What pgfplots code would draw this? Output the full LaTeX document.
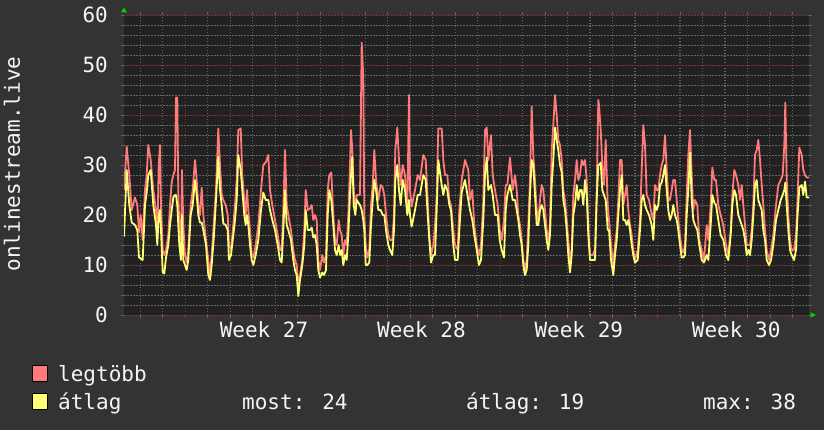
\documentclass[border=0pt]{standalone}
\usepackage{pgfplots}
\pgfplotsset{compat=1.18}
\usepackage{pgfplotstable}
\usepackage{fontspec}
\setmainfont{DejaVu Sans Mono}
\definecolor{outerbg}{RGB}{51,51,51}
\definecolor{plotbg}{RGB}{33,33,33}
\definecolor{mingrid}{RGB}{100,100,100}
\definecolor{majgrid}{RGB}{125,52,52}
\definecolor{fg}{RGB}{245,245,245}
\definecolor{redc}{RGB}{255,122,122}
\definecolor{yelc}{RGB}{255,255,115}
\definecolor{arrowg}{RGB}{0,210,0}
\newcommand\fs{\fontsize{21bp}{25bp}\selectfont}

% x = time position (one unit = 1/22.486 day; week boundaries at 185.3, 342.7, 500.1, 657.5)
% r = legtobb (max), a = atlag (average)
\pgfplotstableread{
x r a
124 25 15.7
126.7 33.7 29
129.3 28 22
131.7 21 18.5
135 23.5 18
137.3 22 17
139 16.5 11.5
140.7 20 11.3
142.7 15 11
145 25 22
146.7 28 24.5
148.3 34 28
150.7 31 29
153.3 25 22
156 21 18
157.3 15 14
158.7 30 20
160 34 21
161 22 17
162.7 13 8.5
164.3 12 8.3
166 13 11.5
168.3 16 14
170 22 18
171.7 26.5 21
173.3 28 23.5
175 29 24
176 43.5 24
177.3 43.5 22
178.3 24 18
179.3 18 14
181 15 11
182 29 20
183.3 18 11
185 12 10
186.7 10.5 9
188.3 13 11
190.7 22 20
192.7 25 22
195 31 27
196.7 27 24
198.3 22 20
200 20 18.5
201.7 25.5 18.5
203.3 20 17
206 15 14
208.3 11 8
210 8 7
211.7 12 10
214 19 16
216 25 23
218.3 37.3 31.7
220 30 25
221.7 24 22
223.3 23 18.3
225.7 22 18
227.7 20 17
229 14 11
231 13 12
233.3 18 16
235 22 19
236.7 27 23
238.3 37 32
240.7 37.3 29
242.3 28 25
244.3 23 20
245.7 20 18
247 25 20
248.3 21 18
250 17 14
251.7 12 11
253.3 11.5 10
255.7 14 12
258.3 18 15
261 25 21
263.3 30 24.5
265.7 30.5 23
268.3 32 23
270 25 21
272.3 22 19
275 19 17
277.7 16 14
280 13 11
281.7 13 10.5
283.3 21 17
285 33 25
286.7 22 18
288.3 20 17
291 17 15
293.3 13 11
295 11 9
296.7 10 8
298.3 6 3.8
300 8 7
302.3 11 10
304.3 17 14
305.7 25 21
307.7 21 17
310 21.3 17
311.7 22 17.5
313.3 19 15.5
315 20 16
316.7 19 14
318.3 11 9
320 9 7.5
322.3 12 8.5
324 10.5 8
326 12 9
327.7 25 20
329.3 28 25
331.3 28.5 23
333.3 20 18
335 15 13
336.7 14 12
338.7 19 14
340 17 12
341.7 16 13
343.3 12 10
345 15 12
346.7 14 11
348.3 20 16
350 30 24
351 37 28
352.3 33 31.7
353.7 25 22
355.3 21 20
356.7 24 23
358.3 24 22.5
360 24 22
361.7 54.5 21
363.3 47.5 19
364.3 20 17
365.7 14 10
367.3 11.5 10
369.3 13 10.5
371 22 18
372.7 26 23
374.3 33 27
376 27 25
378.3 23 21
380.7 26 21
382.7 25.5 20
384.3 24 20
386 20 17
388.3 16 14
390 15 13
392.3 15 12
394 20 17
395.3 33 27
397.3 37.5 30
399 31 25
400.7 26 22
402.7 30 27
405 28 25
407.3 21 20
409 44 23
410 25 20
411.7 21.7 17.7
415 25 21
417.7 28 24
420 27 24
423.3 32 28
425.7 31 27
427.7 23 20
429.3 16 15
431 12 10.5
433.3 14 12
435 18 12
436.7 24 21
438.3 37.3 31
441.7 37.3 26
443.3 31 24
445 28 26
447.3 28 25
449.3 23 22
451 22 21
453.3 17 14
455 14 11
457.7 13 11
459.3 21 17
461.7 27 24.5
465 31 27
468.3 29 23
470 23 21
472.3 25 19
474.3 18 16
476.7 14 13
479 12 10
481 14 11
483.3 23 19
485 37 28
486.7 37.5 31.5
488.3 31 25
491 36 26
492.7 28 24
495 25 20
497.7 22 20
499.7 17 15
501.7 15 13
504 19 11.5
505.7 26 21
507.3 26 24
510 31.5 26
512.7 25 23
515 28 23
516.7 25 21
518.3 20 19
520 18 16
521.7 15 14
523.3 11 10
525 9 8
526.7 11 9
528.3 18 14
530 27 24
531.7 41.7 31
533.3 32 30
535 27 24
536.7 21 18
538.3 19 18
540 23 21
541.7 26 22
543.3 25 21
545 21 18
546.7 17 15
548.3 15 13
550 18 16
551.7 33 26
553.3 38 31
555 44 37.5
556.7 40 35
558.3 35 33
560 34 30
561.7 31 28.5
563.3 25 23
565 23 21
566.7 19 17
568.3 15 12
570 11 8.5
571.7 13 12
573.3 24 20
575 27 22
576.7 31 26
578.3 27 23
580 28 25
581.7 31 25
583.3 30 22
585 31 27
586.7 27 24
588.3 18 16
590 12 11
592.7 12 11
595 13 11
596.7 25 23
598.3 43 30
599 42 30
600.7 37 30.5
602.3 30 25
604 26 24
605.7 35 23
607.7 22 17
609 19 17
611 14 11
613.3 10 8
615 14 12
616.7 17 15
618.3 23 20
620 31 25
621.7 31 28
623.3 22 19
625 24 19
626.7 26 18
628.3 21 19
630 18 17
631.7 16 14
633.3 13 12
635 11 10.5
637.7 13 11
640 19 17
641.7 29 23
643.3 38 24
645 34 22
646.7 24 21
649 23 20
651.7 20 18
653.3 19 15
655 26 22
656.7 25 21
658.3 25 22
660 28 26
661.7 30 26.5
663.3 31 28
665 36 30
666.7 29 25
668.3 23 21
670 23 19
671.7 25 20
673.3 27 22
675 27 20
676.7 23 19
678.3 19 17
680 16 14
681.7 13 11.5
683.3 12.5 11.5
685 14 12
686.7 24 20
688.3 32 25
690 37 32.5
691.7 28 23
693.3 21 19
695 23 18
697.3 22 17
699.3 15 14
701.7 13 11
704 11 10.5
706.7 18 12
708.3 15 11
710.7 22 18
712.3 29.5 24
714.3 27 22.5
716 27 22
718.3 22 19
720.7 20 16
723.3 18 15
726 14 12
728.3 12 11
730.7 17 16
732.3 24 22
734.3 29 25
736 28 24
738.3 26 20
740 23 19
741.7 26 18
743.3 22 17
745 18 15
746.7 14 12
748.3 14 13
750 14 12
751.7 17 15
753.3 22 20
755 32 26
756.7 33 27
758.3 35 23
760 31 22
761.7 26 21
763.3 22 17
765 17 15
766.7 13 11
769 11 10
771 13 11
773.3 16 14
776 22 19
778.3 26 21
780.7 27 23
782.7 28 24
784.3 34 25
785.3 42.5 26.5
786.7 27 22
788.3 20 17
790 15 13
791.7 13 12
794 13 11
796 16 13
797.3 22 19
799.3 33.5 25.5
801.7 32 26
803.3 29 24
805 28 26.7
806.7 27.5 23.5
809 27.5 23.5
}\rrddata

\begin{document}
\begin{tikzpicture}
\fill[outerbg] (-124bp,-115bp) rectangle (700bp,315bp);
\begin{axis}[
  at={(0,0)}, anchor=south west,
  scale only axis, width=685bp, height=300bp,
  xmin=124, xmax=809, ymin=0, ymax=60,
  clip mode=individual,
  axis background/.style={fill=plotbg},
  axis line style={draw=none},
  xmajorgrids=true, ymajorgrids=true, yminorgrids=true,
  major grid style={draw=majgrid, dash pattern=on 1.5bp off 1.5bp, line width=0.9bp},
  minor grid style={draw=mingrid, dash pattern=on 1.5bp off 1.5bp, line width=0.9bp},
  xtick={140.3,162.8,207.8,230.3,252.8,275.2,297.7,320.2,365.2,387.7,410.2,432.6,455.1,477.6,522.6,545.1,567.6,590.0,612.5,635.0,680.0,702.5,725.0,747.4,769.9,792.4},
  xticklabels={},
  x grid style={draw=mingrid, dash pattern=on 1.5bp off 1.5bp, line width=1.1bp},
  extra x ticks={185.3,342.7,500.1,657.5},
  extra x tick labels={},
  extra x tick style={x grid style={draw=majgrid, dash pattern=on 1.5bp off 1.5bp, line width=1.1bp}, every tick/.style={draw=majgrid, line width=0.8bp}},
  ytick={0,10,...,60}, minor y tick num=4,
  tick align=outside, major tick length=3bp, minor tick length=3bp,
  every tick/.style={draw=mingrid, line width=0.8bp},
  /pgf/number format/assume math mode=true,
  yticklabel style={font=\fs, text=fg, anchor=east, inner sep=0pt, xshift=-13bp},
]
\addplot[redc, line width=1.8bp, line join=round] table[x=x, y=r] {\rrddata};
\addplot[yelc, line width=1.8bp, line join=round] table[x=x, y=a] {\rrddata};
\node[font=\fs, text=fg, inner sep=0pt, anchor=base, yshift=-22bp] at (axis cs:264,0) {Week 27};
\node[font=\fs, text=fg, inner sep=0pt, anchor=base, yshift=-22bp] at (axis cs:421.4,0) {Week 28};
\node[font=\fs, text=fg, inner sep=0pt, anchor=base, yshift=-22bp] at (axis cs:578.8,0) {Week 29};
\node[font=\fs, text=fg, inner sep=0pt, anchor=base, yshift=-22bp] at (axis cs:736.2,0) {Week 30};
\end{axis}
% arrows at axis ends
\fill[arrowg] (-3bp,302.5bp) -- (3bp,302.5bp) -- (0bp,307.5bp) -- cycle;
\fill[arrowg] (686.5bp,-2.7bp) -- (686.5bp,2.7bp) -- (692bp,0bp) -- cycle;
% y label
\node[rotate=90, font=\fs, text=fg, inner sep=0pt, anchor=center] at (-112bp,151bp) {onlinestream.live};
% legend
\draw[black, line width=0.8bp, fill=redc] (-92bp,-66.5bp) rectangle (-77bp,-50.5bp);
\draw[black, line width=0.8bp, fill=yelc] (-92bp,-94.5bp) rectangle (-77bp,-78.5bp);
\node[font=\fs, text=fg, inner sep=0pt, anchor=base west] at (-66bp,-66bp) {legtöbb};
\node[font=\fs, text=fg, inner sep=0pt, anchor=base west] at (-66bp,-94bp) {átlag};
\node[font=\fs, text=fg, inner sep=0pt, anchor=base west] at (118bp,-94bp) {most: 24};
\node[font=\fs, text=fg, inner sep=0pt, anchor=base west] at (342bp,-94bp) {átlag: 19};
\node[font=\fs, text=fg, inner sep=0pt, anchor=base west] at (579bp,-94bp) {max: 38};
\pgfresetboundingbox
\path[use as bounding box] (-124bp,-115bp) rectangle (700bp,315bp);
\end{tikzpicture}
\end{document}
